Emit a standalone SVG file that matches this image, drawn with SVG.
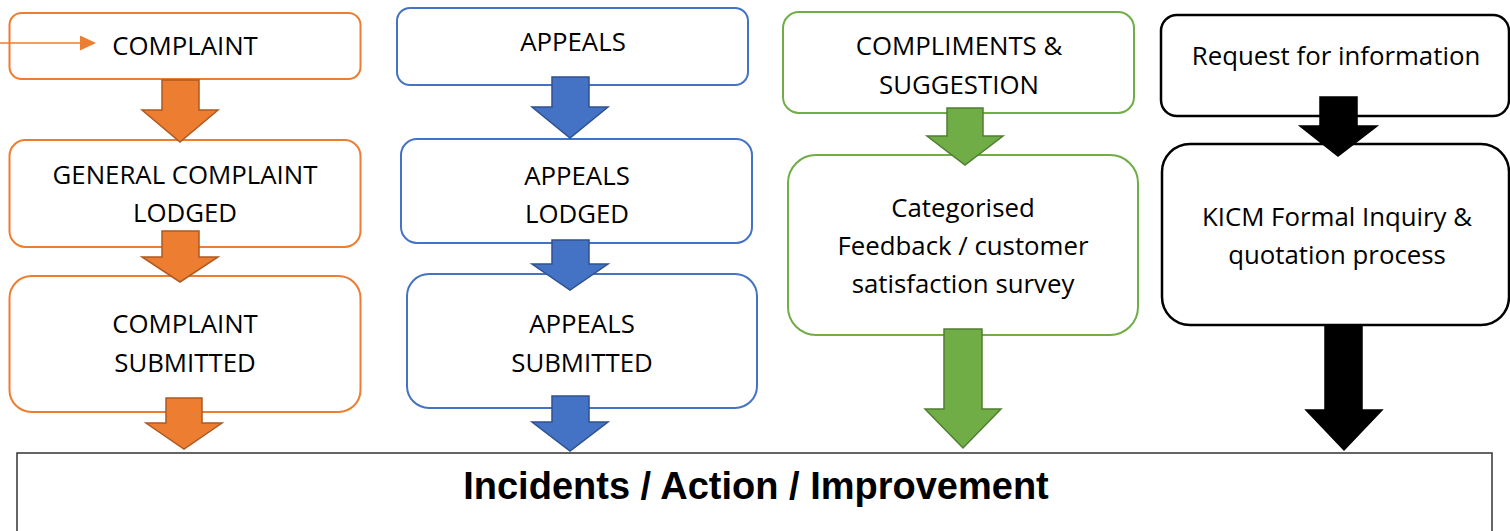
<svg xmlns="http://www.w3.org/2000/svg" width="1510" height="531" viewBox="0 0 1510 531">
  <style>
    .lbl { font-family: "Open Sans", "Noto Sans", "Liberation Sans", sans-serif; font-size: 25.8px; fill: #000; text-anchor: middle; }
    .title { font-family: "Liberation Sans", Arial, sans-serif; font-size: 38px; font-weight: bold; fill: #000; text-anchor: middle; }
    .bo { fill: #fff; stroke: #ED7D31; stroke-width: 2; }
    .bb { fill: #fff; stroke: #4472C4; stroke-width: 2; }
    .bg { fill: #fff; stroke: #70AD47; stroke-width: 2; }
    .bk { fill: #fff; stroke: #000; stroke-width: 2.5; }
    .ao { fill: #ED7D31; stroke: #AE5A21; stroke-width: 1.5; }
    .ab { fill: #4472C4; stroke: #2F528F; stroke-width: 1.5; }
    .ag { fill: #70AD47; stroke: #507E32; stroke-width: 1.5; }
    .ak { fill: #000; stroke: #000; stroke-width: 1.5; }
  </style>
  <defs>
    <marker id="tri" viewBox="0 0 16 15" refX="0" refY="7.5" markerWidth="16" markerHeight="15" markerUnits="userSpaceOnUse" orient="auto">
      <path d="M0,0 L16,7.5 L0,15 z" fill="#ED7D31"/>
    </marker>
  </defs>

  <g id="result">
    <rect x="17" y="453" width="1475" height="120" fill="#fff" stroke="#333" stroke-width="1.5"/>
    <text class="title" x="756" y="499">Incidents / Action / Improvement</text>
  </g>

  <g id="complaint">
    <rect class="bo" x="9.5" y="13" width="351" height="66" rx="12"/>
    <text class="lbl" x="185" y="55">COMPLAINT</text>
  </g>
  <g id="general-complaint-lodged">
    <rect class="bo" x="9.5" y="140" width="351" height="107" rx="16"/>
    <text class="lbl" x="185" y="184">GENERAL COMPLAINT</text>
    <text class="lbl" x="185" y="222">LODGED</text>
  </g>
  <g id="complaint-submitted">
    <rect class="bo" x="9.5" y="276" width="351" height="136" rx="22"/>
    <text class="lbl" x="185" y="333">COMPLAINT</text>
    <text class="lbl" x="185" y="372">SUBMITTED</text>
  </g>

  <g id="appeals">
    <rect class="bb" x="397" y="8" width="351" height="77" rx="13"/>
    <text class="lbl" x="573" y="51">APPEALS</text>
  </g>
  <g id="appeals-lodged">
    <rect class="bb" x="401" y="139" width="351" height="104" rx="16"/>
    <text class="lbl" x="577" y="185">APPEALS</text>
    <text class="lbl" x="577" y="223">LODGED</text>
  </g>
  <g id="appeals-submitted">
    <rect class="bb" x="407" y="274" width="350" height="134" rx="22"/>
    <text class="lbl" x="582" y="333">APPEALS</text>
    <text class="lbl" x="582" y="372">SUBMITTED</text>
  </g>

  <g id="compliments">
    <rect class="bg" x="783" y="12" width="351" height="101" rx="16"/>
    <text class="lbl" x="959" y="55">COMPLIMENTS &amp;</text>
    <text class="lbl" x="959" y="94">SUGGESTION</text>
  </g>
  <g id="categorised-feedback">
    <rect class="bg" x="788" y="155" width="350" height="180" rx="28"/>
    <text class="lbl" x="963" y="217">Categorised</text>
    <text class="lbl" x="963" y="255">Feedback / customer</text>
    <text class="lbl" x="963" y="293">satisfaction survey</text>
  </g>

  <g id="request-info">
    <rect class="bk" x="1161" y="15" width="348" height="101" rx="16"/>
    <text class="lbl" x="1336" y="65">Request for information</text>
  </g>
  <g id="kicm-inquiry">
    <rect class="bk" x="1162" y="144" width="347" height="181" rx="28"/>
    <text class="lbl" x="1337" y="226">KICM Formal Inquiry &amp;</text>
    <text class="lbl" x="1337" y="264">quotation process</text>
  </g>

  <g id="connectors">
    <line x1="0" y1="43" x2="80" y2="43" stroke="#ED7D31" stroke-width="1.3" marker-end="url(#tri)"/>

    <polygon class="ao" points="162,80 199,80 199,110 218,110 180,142 142,110 162,110"/>
    <polygon class="ao" points="162,231 199,231 199,257 218,257 180,282 142,257 162,257"/>
    <polygon class="ao" points="166,398 202,398 202,423 222,423 184,449 146,423 166,423"/>

    <polygon class="ab" points="552,77 589,77 589,107 608,107 570,138 532,107 552,107"/>
    <polygon class="ab" points="552,240 589,240 589,264 608,264 570,290 532,264 552,264"/>
    <polygon class="ab" points="552,396 589,396 589,422 608,422 570,451 532,422 552,422"/>

    <polygon class="ag" points="947,108 983,108 983,136 1003,136 965,165 927,136 947,136"/>
    <polygon class="ag" points="944,329 982,329 982,409 1001,409 963,448 925,409 944,409"/>

    <polygon class="ak" points="1320,97 1357,97 1357,126 1377,126 1338,156 1300,126 1320,126"/>
    <polygon class="ak" points="1325,326 1362,326 1362,410 1382,410 1344,450 1306,410 1325,410"/>
  </g>
</svg>
